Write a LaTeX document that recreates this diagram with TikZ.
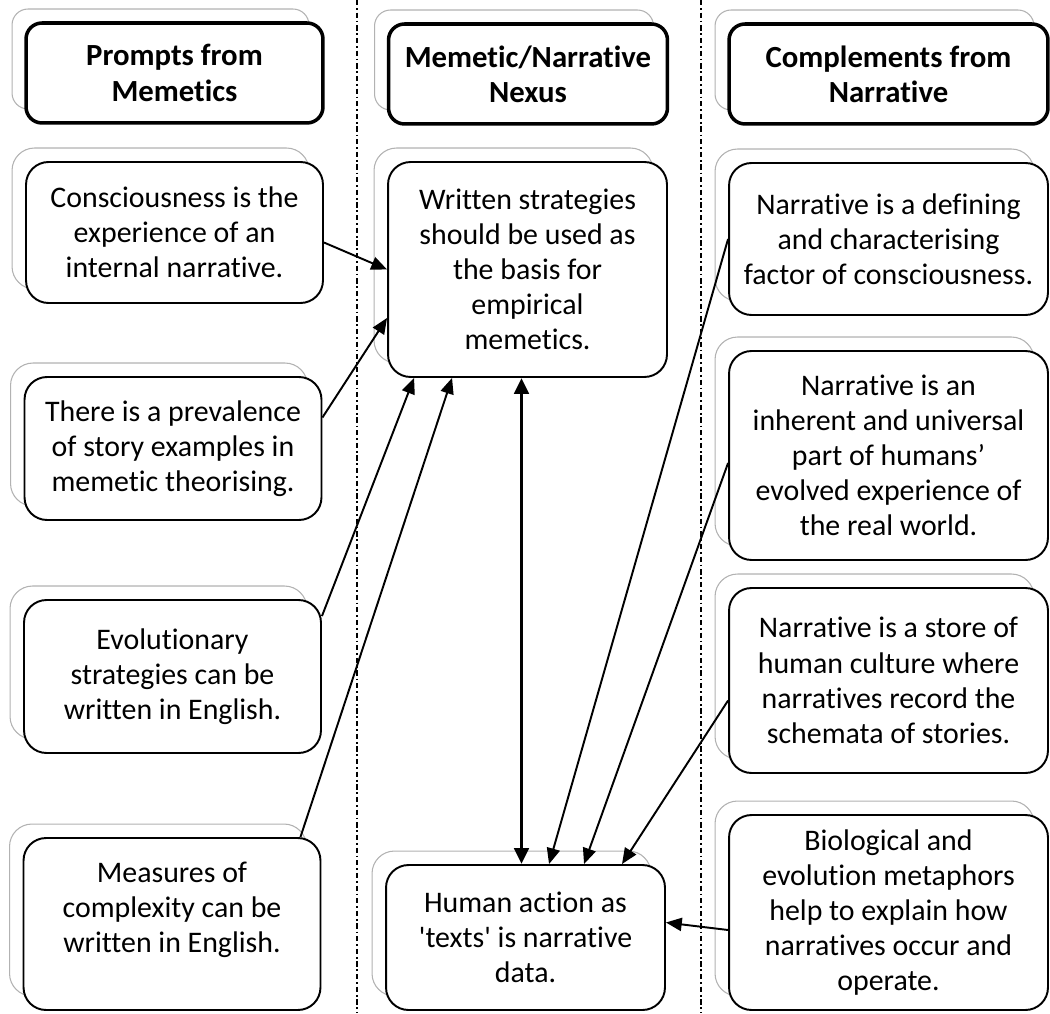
\documentclass[tikz,border=0pt]{standalone}
\usepackage{fontspec}
\setmainfont{Carlito}[Ligatures={TeX,NoCommon,NoContextual},Contextuals={NoAlternate}]
\usetikzlibrary{arrows.meta,shadows}

\begin{document}
\begin{tikzpicture}[x=0.02cm,y=-0.02cm,
  font=\fontsize{17}{20}\selectfont,
  box/.style={draw,line width=1.1pt,rounded corners=0.45cm,fill=white,align=center,inner xsep=2pt,
    copy shadow={shadow xshift=-0.28cm,shadow yshift=0.28cm,draw=black!30,line width=0.6pt,fill=white}},
  head/.style={box,line width=2pt,rounded corners=0.32cm,font=\fontsize{17.5}{20}\selectfont\bfseries,minimum height=2cm},
  lcol/.style={minimum width=5.94cm},
  mcol/.style={minimum width=5.58cm},
  rcol/.style={minimum width=6.38cm},
  link/.style={-{Triangle[length=9pt,width=7.5pt]},line width=1.1pt},
  both/.style={{Triangle[length=9pt,width=8pt]}-{Triangle[length=9pt,width=8pt]},line width=2.2pt},
  divider/.style={line width=1.2pt,dash pattern=on 3pt off 1.6pt on 1pt off 1.6pt}]
  \useasboundingbox (0,0) rectangle (1050,1013);
  \draw[divider] (357,0) -- (357,1013);
  \draw[divider] (701,0) -- (701,1013);

  \node[head,lcol] (hmem) at (174.5,73) {Prompts from\\Memetics};
  \node[head,mcol] (hnex) at (528,74) {Memetic/Narrative\\Nexus};
  \node[head,rcol] (hnar) at (888.5,74) {Complements from\\Narrative};

  \node[box,lcol,minimum height=2.82cm] (conscious) at (174.5,232.5) {Consciousness is the\\experience of an\\internal narrative.};
  \node[box,lcol,minimum height=2.86cm] (prevalence) at (173,448.5) {There is a prevalence\\of story examples in\\memetic theorising.};
  \node[box,lcol,minimum height=3.06cm] (evolution) at (172.5,676.5) {Evolutionary\\strategies can be\\written in English.};
  \node[box,lcol,minimum height=3.44cm,text depth=0.68cm] (measures) at (172,924) {Measures of\\complexity can be\\written in English.};

  \node[box,mcol,minimum height=4.3cm] (written) at (527.5,269.5) {Written strategies\\should be used as\\the basis for\\empirical\\memetics.};
  \node[box,mcol,minimum height=2.9cm] (action) at (525.5,937.5) {Human action as\\\textquotesingle texts\textquotesingle{} is narrative\\data.};

  \node[box,rcol,minimum height=3.04cm] (defining) at (888.5,239) {Narrative is a defining\\and characterising\\factor of consciousness.};
  \node[box,rcol,minimum height=4.18cm] (inherent) at (888.5,455.5) {Narrative is an\\inherent and universal\\part of humans'\\evolved experience of\\the real world.};
  \node[box,rcol,minimum height=3.7cm] (store) at (888.5,680.5) {Narrative is a store of\\human culture where\\narratives record the\\schemata of stories.};
  \node[box,rcol,minimum height=3.9cm] (metaphor) at (888.5,912.5) {Biological and\\evolution metaphors\\help to explain how\\narratives occur and\\operate.};

  % prompts into the nexus
  \draw[link] ([yshift=-0.2cm]conscious.east) -- (written.west);
  \draw[link] ([yshift=0.62cm]prevalence.east) -- ([yshift=-0.97cm]written.west);
  \draw[link] (evolution.22) -- ([xshift=0.54cm]written.south west);
  \draw[link] ([xshift=-0.42cm]measures.north east) -- ([xshift=1.3cm]written.south west);
  \draw[both] ([xshift=-0.12cm]written.south) -- ([xshift=-0.12cm]written.south |- action.north);
  % complements into the data box
  \draw[link] (defining.west) -- ([xshift=3.28cm]action.north west);
  \draw[link] ([yshift=-0.15cm]inherent.west) -- ([xshift=3.98cm]action.north west);
  \draw[link] ([yshift=-0.4cm]store.west) -- ([xshift=4.74cm]action.north west);
  \draw[link] ([yshift=-0.35cm]metaphor.west) -- ([yshift=0.3cm]action.east);
\end{tikzpicture}
\end{document}
